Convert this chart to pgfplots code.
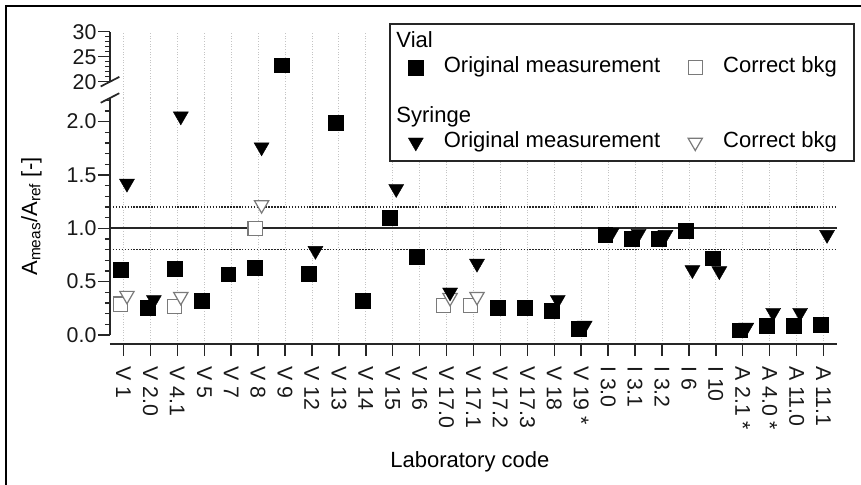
\documentclass[border=0pt]{standalone}
\usepackage{fontspec}
\setmainfont{Liberation Sans}
\usepackage{pgfplots}
\usepackage{pgfplotstable}
\pgfplotsset{compat=1.18}
\definecolor{axgray}{HTML}{262626}
\definecolor{opengray}{HTML}{7A7A7A}
\definecolor{gridgray}{HTML}{C4C4C4}

% Vial, original measurement (x = category index - 0.11)
\pgfplotstableread{
x y
-0.11 0.61
0.89 0.26
1.89 0.62
2.89 0.32
3.89 0.57
4.89 0.63
6.89 0.576
7.89 1.99
8.89 0.32
9.89 1.10
10.89 0.73
13.89 0.26
14.89 0.26
15.89 0.225
16.89 0.063
17.89 0.94
18.89 0.90
19.89 0.90
20.89 0.98
21.89 0.72
22.89 0.045
23.89 0.09
24.89 0.09
25.89 0.10
}\vialorig
% Vial, original measurement, upper segment (V 9)
\pgfplotstableread{
x y
5.89 23.3
}\vialorigup
% Vial, corrected background
\pgfplotstableread{
x y
-0.11 0.29
1.89 0.27
4.89 1.00
11.89 0.275
12.89 0.275
}\vialcorr
% Syringe, original measurement (x = category index + 0.13)
\pgfplotstableread{
x y
0.13 1.42
1.13 0.33
2.13 2.05
5.13 1.76
7.13 0.79
10.13 1.37
12.13 0.40
13.13 0.67
16.13 0.33
17.13 0.09
18.13 0.96
19.13 0.95
20.13 0.94
21.13 0.61
22.13 0.60
23.13 0.07
24.13 0.21
25.13 0.21
26.13 0.94
}\syrorig
% Syringe, corrected background
\pgfplotstableread{
x y
0.13 0.37
2.13 0.36
5.13 1.22
12.13 0.35
13.13 0.36
}\syrcorr

\pgfplotsset{
  sqfill/.style={only marks, mark=square*, mark size=5.6pt, mark options={fill=black, draw=black, line width=0.3pt}},
  sqopen/.style={only marks, mark=square*, mark size=5.3pt, mark options={fill=white, draw=opengray, line width=0.9pt}},
  trifill/.style={only marks, mark=triangle*, mark size=6.5pt, mark options={rotate=180, fill=black, draw=black, line width=0.3pt}},
  triopen/.style={only marks, mark=triangle*, mark size=6.2pt, mark options={rotate=180, fill=white, draw=opengray, line width=0.9pt}},
  legA/.style={legend image code/.code={\path[draw=none, fill=none] (-19.5pt,-9.375pt) rectangle (21pt,9.375pt); \draw[##1] plot coordinates {(0pt,0pt)};}},
  legB/.style={legend image code/.code={\path[draw=none, fill=none] (-26.25pt,-9.375pt) rectangle (21pt,9.375pt); \draw[##1] plot coordinates {(0pt,0pt)};}},
  legAempty/.style={legend image code/.code={\path[draw=none, fill=none] (-19.5pt,-9.375pt) rectangle (21pt,9.375pt);}},
  legBempty/.style={legend image code/.code={\path[draw=none, fill=none] (-26.25pt,-9.375pt) rectangle (21pt,9.375pt);}},
  common/.style={
    scale only axis, width=545.25pt,
    xmin=-0.5, xmax=26.5, clip=false,
    axis line style={draw=none},
    xtick={0,...,26},
    xmajorgrids, major x grid style={gridgray, dash pattern=on 0.8pt off 1.2pt, line width=0.6pt},
    tick align=outside, ytick pos=left, xtick pos=bottom,
    major tick length=9pt, minor tick length=3.75pt,
    every tick/.style={axgray, line width=1.1pt},
    tick label style={font=\fontsize{16}{19}\selectfont, text=black!90},
    /pgf/number format/assume math mode=true,
    yticklabel style={inner xsep=1pt},
  },
}

\begin{document}
\begin{tikzpicture}[x=1pt,y=1pt]
\useasboundingbox (0,0) rectangle (645.75,363.75);
\fill[white] (0,0) rectangle (645.75,363.75);
\draw[black, line width=1.5pt] (4.5,0) -- (4.5,359.25) -- (645.75,359.25);

% upper segment of the broken y axis
\begin{axis}[common,
  at={(82.5pt,290.25pt)}, anchor=south west,
  height=49.725pt,
  ymin=16.74, ymax=30,
  xticklabels={}, major x tick style={draw=none},
  ytick={20,25,30}, minor ytick={21,22,23,24,26,27,28,29},
  yticklabel style={/pgf/number format/.cd, fixed, precision=0},
]
\draw[axgray, line width=1.5pt] (axis cs:-0.5,20) -- (axis cs:-0.5,30);
\draw[axgray, line width=1.3pt] ([shift={(-7pt,-3.6pt)}]axis cs:-0.5,20) -- ([shift={(7pt,3.6pt)}]axis cs:-0.5,20);
\addplot[sqfill, forget plot] table[x=x, y=y] {\vialorigup};
\end{axis}

% lower segment
\begin{axis}[common,
  at={(82.5pt,105.75pt)}, anchor=south west,
  height=184.5pt,
  ymin=-0.0843, ymax=2.221,
  xticklabels={V 1, V 2.0, V 4.1, V 5, V 7, V 8, V 9, V 12, V 13, V 14, V 15, V 16, V 17.0, V 17.1, V 17.2, V 17.3, V 18, V 19 *, I 3.0, I 3.1, I 3.2, I 6, I 10, A 2.1 *, A 4.0 *, A 11.0, A 11.1},
  xticklabel style={rotate=-90, anchor=west, inner xsep=7.5pt, inner ysep=0pt},
  ytick={0,0.5,1,1.5,2},
  minor ytick={0.1,0.2,0.3,0.4,0.6,0.7,0.8,0.9,1.1,1.2,1.3,1.4,1.6,1.7,1.8,1.9,2.1,2.2},
  yticklabel style={/pgf/number format/.cd, fixed, fixed zerofill, precision=1},
  xlabel={Laboratory code},
  xlabel style={font=\fontsize{16.5}{19}\selectfont, at={(axis description cs:0.495,-0.504)}, anchor=base},
  ylabel={A\textsubscript{meas}/A\textsubscript{ref} [-]},
  ylabel style={font=\fontsize{16.5}{19}\selectfont, at={(axis description cs:-0.1004,0.518)}, anchor=base},
  legend columns=2,
  legend cell align=left,
  legend style={at={(axis description cs:0.3838,1.3049)}, anchor=north west,
    draw=black!85, line width=1.2pt, fill=white,
    inner xsep=0pt, inner ysep=4.5pt, column sep=0pt, row sep=0pt,
    font=\fontsize{16.5}{19}\selectfont,
    nodes={draw=none, fill=none, inner sep=0pt, text height=11.8pt, text depth=3.5pt, anchor=west}},
]
\draw[axgray, line width=1.5pt] (axis cs:-0.5,0) -- (axis cs:-0.5,2.221);
\draw[axgray, line width=1.5pt] (axis cs:-0.5,-0.0843) -- (axis cs:26.5,-0.0843);
\draw[axgray, line width=1.3pt] ([shift={(-7pt,-3.6pt)}]axis cs:-0.5,2.221) -- ([shift={(7pt,3.6pt)}]axis cs:-0.5,2.221);

\addplot[axgray, line width=1.2pt, forget plot] coordinates {(-0.5,1) (26.5,1)};
\addplot[axgray, line width=1.1pt, dash pattern=on 1.1pt off 1.1pt, forget plot] coordinates {(-0.5,0.8) (26.5,0.8)};
\addplot[axgray, line width=1.1pt, dash pattern=on 1.1pt off 1.1pt, forget plot] coordinates {(-0.5,1.2) (26.5,1.2)};

\addplot[sqfill, forget plot] table[x=x, y=y] {\vialorig};
\addplot[sqopen, forget plot] table[x=x, y=y] {\vialcorr};
\addplot[triopen, forget plot] table[x=x, y=y] {\syrcorr};
\addplot[trifill, forget plot] table[x=x, y=y] {\syrorig};

\addlegendimage{legAempty}\addlegendentry{\makebox[0pt][l]{\hspace{-36pt}Vial}}
\addlegendimage{legBempty}\addlegendentry{\mbox{}}
\addlegendimage{sqfill, legA}\addlegendentry{Original measurement}
\addlegendimage{sqopen, legB}\addlegendentry{Correct bkg\kern12.75pt}
\addlegendimage{legAempty}\addlegendentry{\mbox{}}
\addlegendimage{legBempty}\addlegendentry{\mbox{}}
\addlegendimage{legAempty}\addlegendentry{\makebox[0pt][l]{\hspace{-36pt}Syringe}}
\addlegendimage{legBempty}\addlegendentry{\mbox{}}
\addlegendimage{trifill, legA}\addlegendentry{Original measurement}
\addlegendimage{triopen, legB}\addlegendentry{Correct bkg\kern12.75pt}
\end{axis}
\end{tikzpicture}
\end{document}
